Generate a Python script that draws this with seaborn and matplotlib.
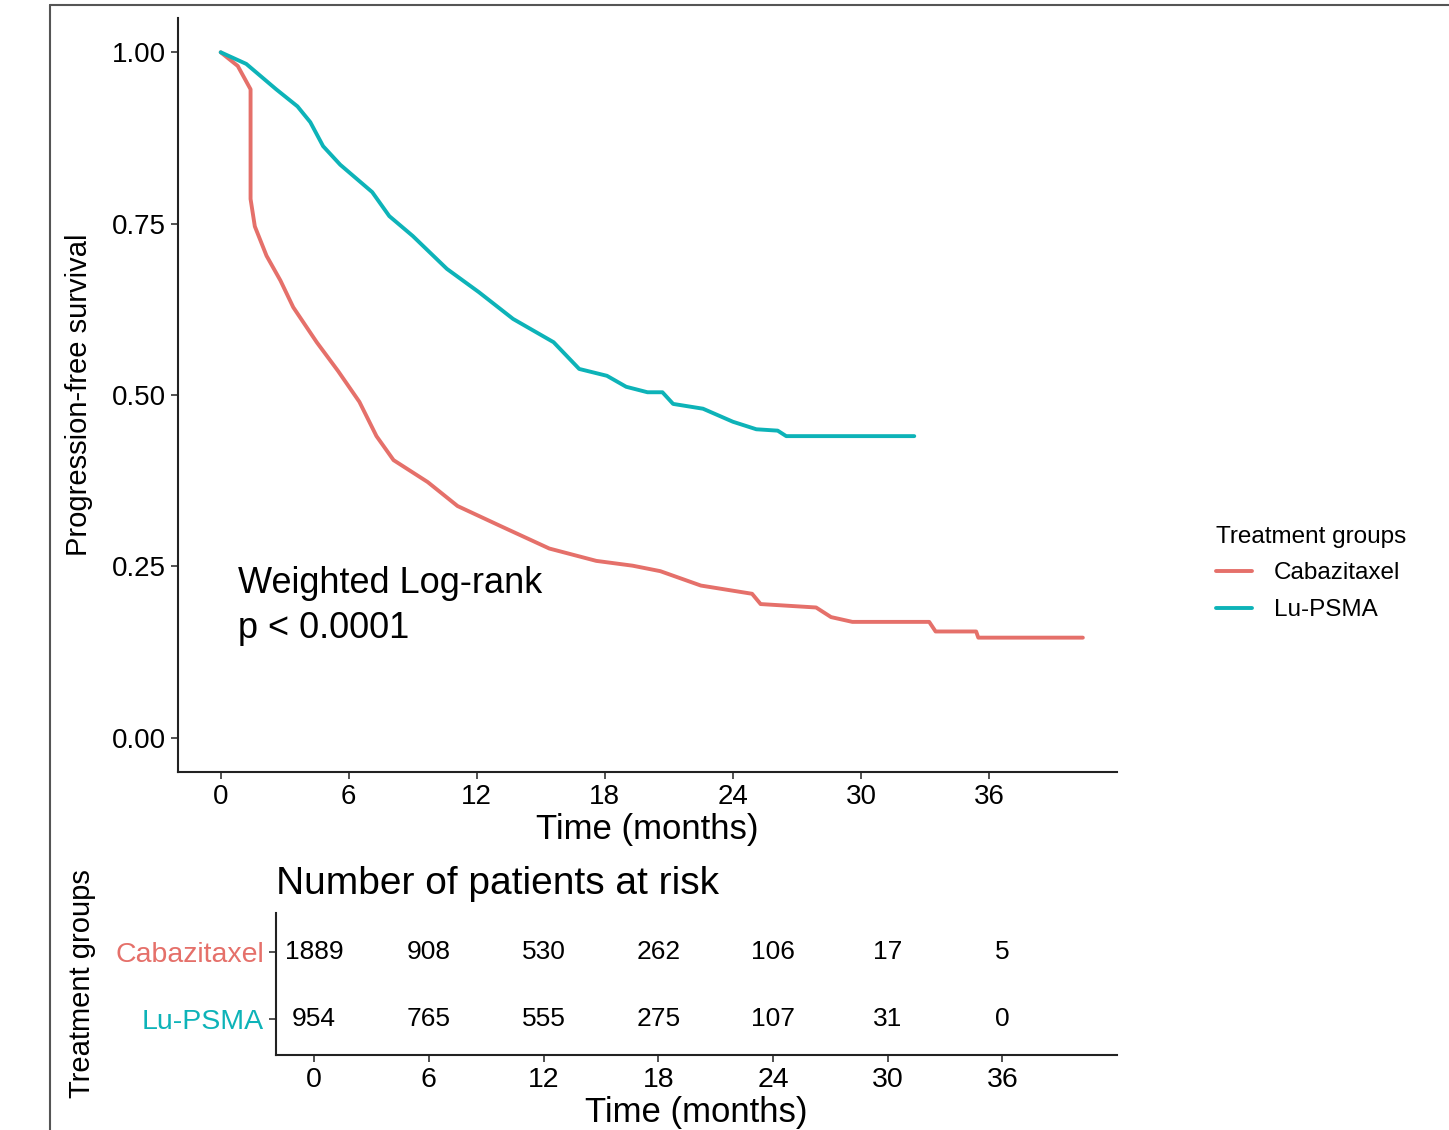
import pandas as pd
import matplotlib.pyplot as plt
import seaborn as sns
from matplotlib.lines import Line2D

# Kaplan-Meier curves (months, survival probability)
cabazitaxel_time = [0, 0.8, 1.4, 1.4, 1.6, 2.15, 2.8, 3.4, 4.5, 5.5, 6.5, 7.3, 8.1, 9.7,
                    11.1, 13.1, 15.4, 17.6, 19.3, 20.6, 22.5, 24.9, 25.3, 27.9, 28.6,
                    29.6, 33.2, 33.5, 35.4, 35.5, 40.4]
cabazitaxel_surv = [1.0, 0.98, 0.946, 0.786, 0.746, 0.703, 0.667, 0.628, 0.577, 0.535,
                    0.49, 0.44, 0.405, 0.373, 0.338, 0.309, 0.276, 0.258, 0.251, 0.243,
                    0.222, 0.21, 0.195, 0.19, 0.176, 0.169, 0.169, 0.155, 0.155, 0.146,
                    0.146]
lu_time = [0, 1.2, 2.6, 3.6, 4.2, 4.8, 5.6, 7.1, 7.9, 9.0, 10.6, 12.1, 13.7, 15.6, 16.8,
           18.1, 19.0, 20.0, 20.7, 21.2, 22.6, 24.0, 25.1, 26.1, 26.5, 32.5]
lu_surv = [1.0, 0.983, 0.946, 0.921, 0.898, 0.863, 0.836, 0.796, 0.761, 0.732, 0.684,
           0.65, 0.611, 0.577, 0.538, 0.528, 0.512, 0.504, 0.504, 0.487, 0.48, 0.461,
           0.45, 0.448, 0.44, 0.44]

groups = ['Cabazitaxel', 'Lu-PSMA']
risk_times = [0, 6, 12, 18, 24, 30, 36]
cabazitaxel_risk = [1889, 908, 530, 262, 106, 17, 5]
lu_risk = [954, 765, 555, 275, 107, 31, 0]

colors = {'Cabazitaxel': '#E5706A', 'Lu-PSMA': '#0DB3B8'}

df = pd.concat([
    pd.DataFrame({'time': cabazitaxel_time, 'surv': cabazitaxel_surv,
                  'Treatment groups': 'Cabazitaxel'}),
    pd.DataFrame({'time': lu_time, 'surv': lu_surv, 'Treatment groups': 'Lu-PSMA'}),
], ignore_index=True)

sns.set_style('ticks')
plt.rcParams['font.family'] = ['Liberation Sans', 'DejaVu Sans']
plt.rcParams['text.color'] = 'black'
plt.rcParams['axes.labelcolor'] = 'black'

W, H = 1449, 1130
fig = plt.figure(figsize=(W / 100, H / 100), dpi=100)


def px_axes(left, top, right, bottom):
    return fig.add_axes([left / W, 1 - bottom / H, (right - left) / W, (bottom - top) / H])


# main survival plot
ax = px_axes(178, 18, 1117, 772)
sns.lineplot(data=df, x='time', y='surv', hue='Treatment groups', palette=colors,
             estimator=None, sort=False, linewidth=2.8, ax=ax)
ax.set_xlim(-2, 42)
ax.set_ylim(-0.05, 1.05)
ax.set_xticks(risk_times)
ax.set_yticks([0, 0.25, 0.5, 0.75, 1.0])
ax.set_yticklabels(['0.00', '0.25', '0.50', '0.75', '1.00'])
ax.set_xlabel('Time (months)', fontsize=25, labelpad=2)
ax.set_ylabel('Progression-free survival', fontsize=21, labelpad=14)
ax.tick_params(labelsize=20, length=5, width=1.2, colors='#333333', labelcolor='black')
for s in ['left', 'bottom']:
    ax.spines[s].set_linewidth(1.5)
    ax.spines[s].set_color('#222222')
sns.despine(ax=ax)
ax.text(0.8, 0.225, 'Weighted Log-rank', fontsize=26, va='center', ha='left')
ax.text(0.8, 0.16, 'p < 0.0001', fontsize=26, va='center', ha='left')

sns.move_legend(ax, loc='upper left', bbox_to_anchor=(1194 / W, 1 - 504 / H),
                bbox_transform=fig.transFigure, frameon=False, fontsize=17.5,
                title_fontsize=17.5, handlelength=1.5, handletextpad=0.9,
                labelspacing=0.6, alignment='left')
for line in ax.get_legend().get_lines():
    line.set_linewidth(2.8)

# risk table
tab = px_axes(276, 913, 1117, 1055)
tab.set_xlim(-2, 42)
tab.set_ylim(0.463, 2.582)
for counts, yv in [(cabazitaxel_risk, 2), (lu_risk, 1)]:
    for t, n in zip(risk_times, counts):
        tab.text(t, yv, str(n), fontsize=19, ha='center', va='center')
tab.set_xticks(risk_times)
tab.set_yticks([2, 1])
tab.set_yticklabels(groups)
tab.tick_params(labelsize=20.5, length=5, width=1.2, colors='#333333', labelcolor='black')
for lbl in tab.get_yticklabels():
    lbl.set_color(colors[lbl.get_text()])
tab.set_xlabel('Time (months)', fontsize=25, labelpad=2)
tab.set_ylabel('Treatment groups', fontsize=21, labelpad=14)
tab.set_title('Number of patients at risk', fontsize=28, loc='left', pad=14)
for s in ['left', 'bottom']:
    tab.spines[s].set_linewidth(1.5)
    tab.spines[s].set_color('#222222')
sns.despine(ax=tab)

# outer frame of the original figure panel
fig.add_artist(Line2D([50 / W, 50 / W], [0, 1 - 5 / H], color='#555555', lw=1.5))
fig.add_artist(Line2D([50 / W, 1], [1 - 5 / H, 1 - 5 / H], color='#555555', lw=1.5))

fig.savefig('out.png', dpi=100)
